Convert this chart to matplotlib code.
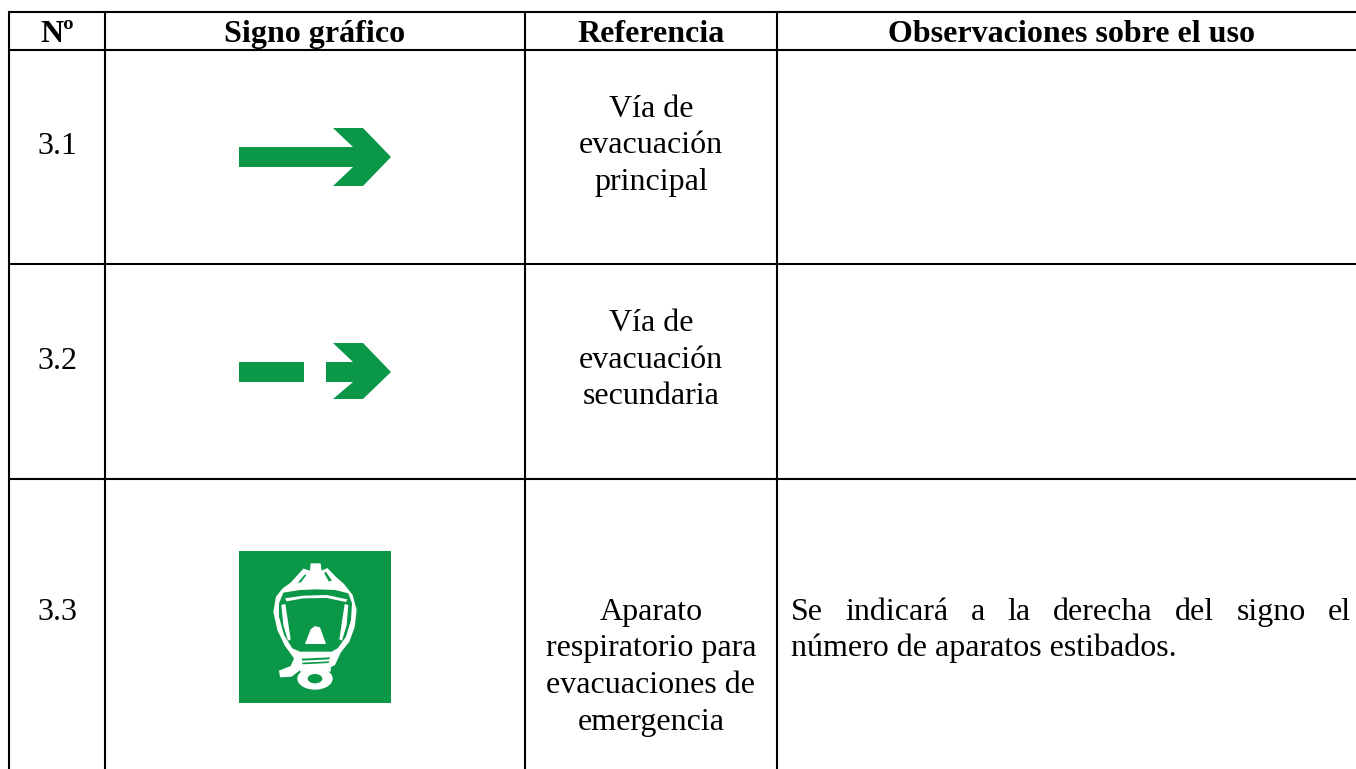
#!/usr/bin/env python3
"""
Table of evacuation signs (3.1 - 3.3)
"""
import matplotlib
matplotlib.use('Agg')
import matplotlib.pyplot as plt
from matplotlib.patches import Polygon, Rectangle, Ellipse

plt.rcParams['font.family'] = ['Liberation Serif', 'DejaVu Serif']

headers = ['Nº', 'Signo gráfico', 'Referencia', 'Observaciones sobre el uso']
numbers = ['3.1', '3.2', '3.3']
references = [
    ['Vía de', 'evacuación', 'principal'],
    ['Vía de', 'evacuación', 'secundaria'],
    ['Aparato', 'respiratorio para', 'evacuaciones de', 'emergencia'],
]
note_justified = 'Se indicará a la derecha del signo el'
note_last = 'número de aparatos estibados.'

GREEN = '#0a9748'
FS = 23

fig = plt.figure(figsize=(13.56, 7.69), dpi=100)
ax = fig.add_axes([0, 0, 1, 1])
ax.set_xlim(0, 1356)
ax.set_ylim(769, 0)
ax.axis('off')

# Grid lines
col_x = [9, 105, 525, 777]
row_y = [12, 50, 264, 479]
for x in col_x:
    ax.plot([x, x], [11, 769], color='black', lw=1.5, solid_capstyle='butt')
for y in row_y:
    ax.plot([8, 1356], [y, y], color='black', lw=1.5, solid_capstyle='butt')

# Header
header_x = [57, 315, 651, 1071]
for x, label in zip(header_x, headers):
    ax.text(x, 42, label, ha='center', va='baseline', fontsize=FS, fontweight='bold')

# Numbers and references
number_y = [154, 369, 620]
ref_y = [[117, 153, 190], [331, 368, 404], [620, 656, 693, 730]]
for num, ny, lines, ys in zip(numbers, number_y, references, ref_y):
    ax.text(57, ny, num, ha='center', va='baseline', fontsize=FS)
    for line, y in zip(lines, ys):
        ax.text(651, y, line, ha='center', va='baseline', fontsize=FS)

# Observations, first line is justified
words = note_justified.split()
fig.canvas.draw()
rend = fig.canvas.get_renderer()
items = [ax.text(0, 620, w, ha='left', va='baseline', fontsize=FS) for w in words]
widths = [t.get_window_extent(rend).width for t in items]
gap = (1351 - 791 - sum(widths)) / (len(words) - 1)
xpos = 791
for t, w in zip(items, widths):
    t.set_x(xpos)
    xpos += w + gap
ax.text(791, 656, note_last, ha='left', va='baseline', fontsize=FS)

# Arrow 3.1
ax.add_patch(Polygon([(239, 147), (353, 147), (333, 128), (363, 128), (391, 157),
                      (363, 186), (333, 186), (353, 167), (239, 167)],
                     closed=True, fc=GREEN, ec='none'))

# Arrow 3.2
ax.add_patch(Rectangle((239, 362), 65, 20, fc=GREEN, ec='none'))
ax.add_patch(Polygon([(326, 362), (353, 362), (333, 343), (363, 343), (391, 372),
                      (363, 399), (333, 399), (353, 382), (326, 382)],
                     closed=True, fc=GREEN, ec='none'))

# Mask sign 3.3, outlines taken from the zoomed crop
ax.add_patch(Rectangle((239, 551), 152, 152, fc=GREEN, ec='none'))


def z(points):
    return [(220 + px / 3, 540 + py / 3) for px, py in points]


def shape(points, color):
    ax.add_patch(Polygon(z(points), closed=True, fc=color, ec='none'))


shape([(272, 70), (302, 70), (305, 92), (322, 84), (345, 108), (372, 132), (398, 165),
       (410, 210), (404, 262), (388, 305), (362, 338), (345, 375), (325, 385),
       (250, 385), (238, 392), (215, 410), (180, 412), (177, 392), (212, 378),
       (222, 355), (195, 318), (172, 270), (160, 215), (168, 170), (188, 145),
       (212, 128), (250, 86), (270, 92)], 'white')
# Slits beside the top strap
shape([(254, 104), (260, 104), (243, 127), (234, 128)], GREEN)
shape([(312, 98), (318, 96), (336, 122), (326, 124)], GREEN)
# Window
shape([(190, 158), (240, 150), (290, 148), (345, 150), (385, 160), (396, 190),
       (393, 240), (378, 290), (353, 325), (335, 335), (240, 335), (217, 325),
       (192, 285), (177, 230), (177, 190)], GREEN)
# Visor highlights
shape([(195, 175), (250, 167), (320, 165), (382, 178), (378, 186), (320, 174),
       (250, 175), (200, 184)], 'white')
shape([(184, 195), (196, 192), (212, 298), (204, 302), (190, 255)], 'white')
shape([(385, 195), (374, 192), (358, 298), (366, 302), (380, 255)], 'white')
shape([(255, 312), (272, 268), (285, 258), (300, 262), (318, 312)], 'white')
# Filter
shape([(240, 345), (335, 345), (332, 395), (240, 395)], 'white')
shape([(245, 356), (330, 352), (328, 358), (247, 362)], GREEN)
shape([(246, 368), (328, 364), (326, 369), (248, 373)], GREEN)
cx, cy = z([(285, 416)])[0]
ax.add_patch(Ellipse((cx, cy), 106 / 3, 66 / 3, fc='white', ec='none'))
ax.add_patch(Ellipse((cx, cy), 44 / 3, 28 / 3, fc=GREEN, ec='none'))

plt.savefig('out.png', dpi=100)
